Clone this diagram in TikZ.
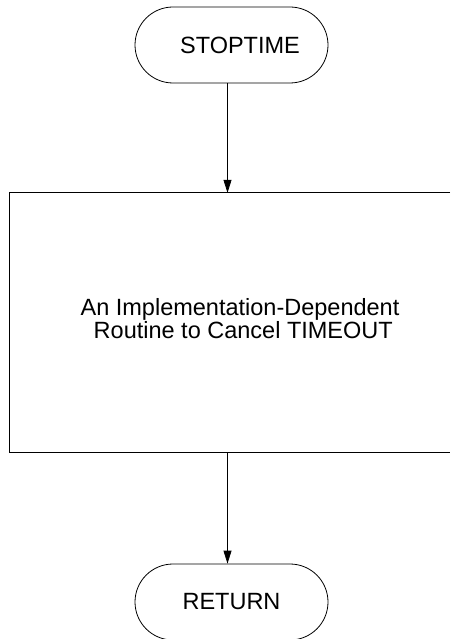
\documentclass[tikz,border=0pt]{standalone}
\usepackage{fontspec}
\setmainfont{Liberation Sans}
\usetikzlibrary{arrows.meta}
\begin{document}
\begin{tikzpicture}[x=1pt,y=-1pt,
  every node/.style={font=\fontsize{23.5}{22.6}\selectfont},
  term/.style={draw, line width=0.8pt, rounded corners=38pt, minimum width=193pt, minimum height=76pt, inner sep=0pt},
  procbox/.style={draw=none, minimum width=460pt, minimum height=259pt, inner sep=0pt},
  flow/.style={line width=0.8pt, -{Triangle[length=13pt,width=8pt]}},
  edge/.style={line width=0.8pt}]
\useasboundingbox (0,0) rectangle (450,639);
\node[term] (stop) at (231.5,45) {\hspace*{17pt}STOPTIME};
\node[procbox] (proc) at (240,322.5) {};
\node[align=center, inner sep=0pt] (proctext) at (240,318.7) {An Implementation-Dependent\\\mbox{}\ Routine to Cancel TIMEOUT};
\node[term] (ret) at (231.5,602) {RETURN};
\coordinate (rightedge) at (450,0);
\draw[edge] (proc.north west -| rightedge) -- (proc.north west) -- (proc.south west) -- (proc.south west -| rightedge);
\draw[flow] ([xshift=-4pt]stop.south) -- ([xshift=-4pt]stop.south |- proc.north);
\draw[flow] ([xshift=-4pt]ret.north |- proc.south) -- ([xshift=-4pt]ret.north);
\end{tikzpicture}
\end{document}
